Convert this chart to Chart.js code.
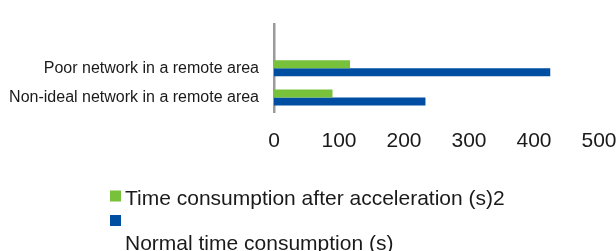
<!DOCTYPE html>
<html>
<head>
<meta charset="utf-8">
<script src="https://cdn.jsdelivr.net/npm/chart.js@4/dist/chart.umd.min.js"></script>
<style>
  html, body { margin: 0; padding: 0; background: #fff; }
  #wrap { width: 616px; height: 251px; }
</style>
</head>
<body>
<div id="wrap"><canvas id="timeChart"></canvas></div>
<script>
// categories (top one is an empty slot, as in the original)
const categories = ['', 'Poor network in a remote area', 'Non-ideal network in a remote area'];
// series values (s)
const afterAcceleration = [null, 117, 90];
const normalTime = [null, 425, 233];
// x tick labels
const xTicks = [0, 100, 200, 300, 400, 500];

const seriesNames = ['Time consumption after acceleration (s)2', '\nNormal time consumption (s)'];
const FONT = "'Liberation Sans', Arial, sans-serif";

// legend drawn under the plot, second label wraps onto its own line
const bottomLegend = {
    id: 'bottomLegend',
    afterDraw(chart) {
        const ctx = chart.ctx;
        ctx.save();
        ctx.font = '21px ' + FONT;
        ctx.textBaseline = 'alphabetic';
        let baseline = 205;
        chart.data.datasets.forEach(ds => {
            ctx.fillStyle = ds.backgroundColor;
            ctx.fillRect(110, baseline - 14.5, 11, 11);
            ctx.fillStyle = '#1a1a1a';
            const lines = ds.label.split('\n');
            lines.forEach((line, i) => {
                ctx.fillText(line, 125, baseline + i * 20);
            });
            baseline += 24.5 + (lines.length - 1) * 20;
        });
        ctx.restore();
    }
};

new Chart(document.getElementById('timeChart'), {
    type: 'bar',
    data: {
        labels: categories,
        datasets: [{
            label: seriesNames[0],
            data: afterAcceleration,
            backgroundColor: '#78c13a'
        }, {
            label: seriesNames[1],
            data: normalTime,
            backgroundColor: '#004ea2'
        }]
    },
    options: {
        indexAxis: 'y',
        responsive: true,
        maintainAspectRatio: false,
        animation: false,
        layout: { padding: { top: 14, right: 17, bottom: 0, left: 0 } },
        datasets: {
            bar: { categoryPercentage: 0.55, barPercentage: 1 }
        },
        plugins: {
            legend: { display: false },
            tooltip: { enabled: false }
        },
        scales: {
            x: {
                min: xTicks[0],
                max: xTicks[xTicks.length - 1],
                grid: { display: false, drawTicks: false },
                border: { display: false },
                ticks: {
                    stepSize: 100,
                    padding: 17,
                    color: '#1a1a1a',
                    font: { family: FONT, size: 21 }
                },
                afterFit(axis) {
                    axis.height = 139;
                    axis.paddingLeft = 0;
                    axis.paddingRight = 0;
                }
            },
            y: {
                grid: { display: false, drawTicks: false },
                border: { display: true, color: '#9b9b9b', width: 2.5 },
                ticks: {
                    padding: 15,
                    color: '#1a1a1a',
                    font: { family: FONT, size: 16 }
                },
                afterFit(axis) {
                    axis.width = 274;
                }
            }
        }
    },
    plugins: [bottomLegend]
});
</script>
</body>
</html>
